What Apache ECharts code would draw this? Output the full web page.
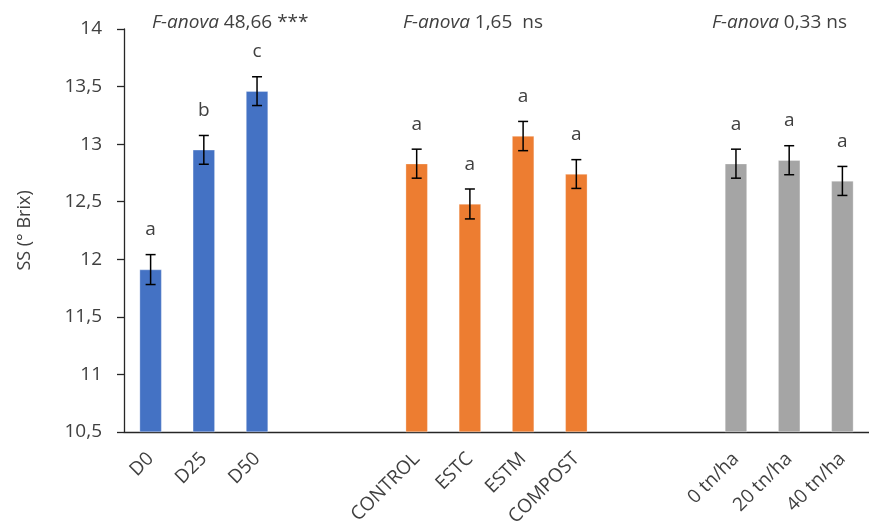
<!DOCTYPE html>
<html>
<head>
<meta charset="utf-8">
<script src="https://cdn.jsdelivr.net/npm/echarts@6/dist/echarts.min.js"></script>
<style>html,body{margin:0;padding:0;background:#fff}#c{width:869px;height:529px}</style>
</head>
<body>
<div id="c"></div>
<script>
// Group 1: dose
const doseCats = ['D0', 'D25', 'D50'];
const doseVals = [11.91, 12.95, 13.46];
const doseErr = [0.13, 0.125, 0.125];
const doseLetters = ['a', 'b', 'c'];
// Group 2: treatment
const treatCats = ['CONTROL', 'ESTC', 'ESTM', 'COMPOST'];
const treatVals = [12.83, 12.48, 13.07, 12.74];
const treatErr = [0.126, 0.13, 0.127, 0.125];
const treatLetters = ['a', 'a', 'a', 'a'];
// Group 3: rate
const rateCats = ['0 tn/ha', '20 tn/ha', '40 tn/ha'];
const rateVals = [12.83, 12.86, 12.68];
const rateErr = [0.126, 0.126, 0.126];
const rateLetters = ['a', 'a', 'a'];
// ANOVA annotations
const anovaStats = ['48,66 ***', '1,65  ns', '0,33 ns'];
// Y ticks
const yMin = 10.5, yMax = 14, yStep = 0.5;

const groups = [
  { cats: doseCats, vals: doseVals, err: doseErr, letters: doseLetters, color: '#4472C4' },
  { cats: treatCats, vals: treatVals, err: treatErr, letters: treatLetters, color: '#ED7D31' },
  { cats: rateCats, vals: rateVals, err: rateErr, letters: rateLetters, color: '#A5A5A5' }
];

const categories = [];
const barData = [];
const errData = [];
const letters = [];
groups.forEach((g, gi) => {
  if (gi > 0) {
    for (let k = 0; k < 2; k++) { categories.push(''); barData.push('-'); letters.push(''); }
  }
  g.cats.forEach((c, i) => {
    const idx = categories.length;
    categories.push(c);
    barData.push({ value: g.vals[i], itemStyle: { color: g.color } });
    letters.push(g.letters[i]);
    errData.push([idx, g.vals[i], g.err[i]]);
  });
});

const FONT = '"Open Sans", "Noto Sans", sans-serif';
const TXT = '#404040';

const chart = echarts.init(document.getElementById('c'), null, { renderer: 'canvas' });
chart.setOption({
  animation: false,
  backgroundColor: '#fff',
  grid: { left: 124, right: -11, top: 29, bottom: 97, containLabel: false },
  xAxis: {
    type: 'category',
    data: categories,
    axisLine: { lineStyle: { color: '#262626', width: 1.3 } },
    axisTick: { show: false },
    axisLabel: { interval: 0, rotate: 45, color: TXT, fontFamily: FONT, fontSize: 19, margin: 24 }
  },
  yAxis: {
    type: 'value',
    min: yMin, max: yMax, interval: yStep,
    name: 'SS (° Brix)',
    nameLocation: 'middle',
    nameGap: 90,
    nameTextStyle: { color: TXT, fontFamily: FONT, fontSize: 18 },
    axisLine: { show: true, lineStyle: { color: '#262626', width: 1.3 } },
    axisTick: { show: true, inside: false, length: 7, lineStyle: { color: '#262626', width: 1.3 } },
    splitLine: { show: false },
    axisLabel: {
      color: TXT, fontFamily: FONT, fontSize: 19, margin: 22,
      formatter: v => String(v).replace('.', ',')
    }
  },
  series: [
    {
      type: 'bar',
      data: barData,
      barWidth: 22,
      itemStyle: { borderColor: 'rgba(255,255,255,0.6)', borderWidth: 0.5 },
      label: {
        show: true, position: 'top', distance: 30,
        color: TXT, fontFamily: FONT, fontSize: 19,
        formatter: p => letters[p.dataIndex]
      }
    },
    {
      type: 'custom',
      data: errData,
      z: 5,
      renderItem: (params, api) => {
        const x = api.value(0), v = api.value(1), e = api.value(2);
        const hi = api.coord([x, v + e]);
        const lo = api.coord([x, v - e]);
        const cap = 5;
        const st = { stroke: '#000', lineWidth: 1.5 };
        return {
          type: 'group',
          children: [
            { type: 'line', shape: { x1: hi[0], y1: hi[1], x2: lo[0], y2: lo[1] }, style: st },
            { type: 'line', shape: { x1: hi[0] - cap, y1: hi[1], x2: hi[0] + cap, y2: hi[1] }, style: st },
            { type: 'line', shape: { x1: lo[0] - cap, y1: lo[1], x2: lo[0] + cap, y2: lo[1] }, style: st }
          ]
        };
      }
    }
  ],
  graphic: [
    { left: 152, top: 13 }, { left: 403, top: 13 }, { left: 712, top: 13 }
  ].map((pos, i) => ({
    type: 'text',
    left: pos.left, top: pos.top,
    style: {
      text: '{i|F-anova} ' + anovaStats[i],
      fill: TXT,
      font: '19px ' + FONT,
      rich: { i: { fontStyle: 'italic', fontFamily: FONT, fontSize: 19, fill: TXT } }
    }
  }))
});
</script>
</body>
</html>
